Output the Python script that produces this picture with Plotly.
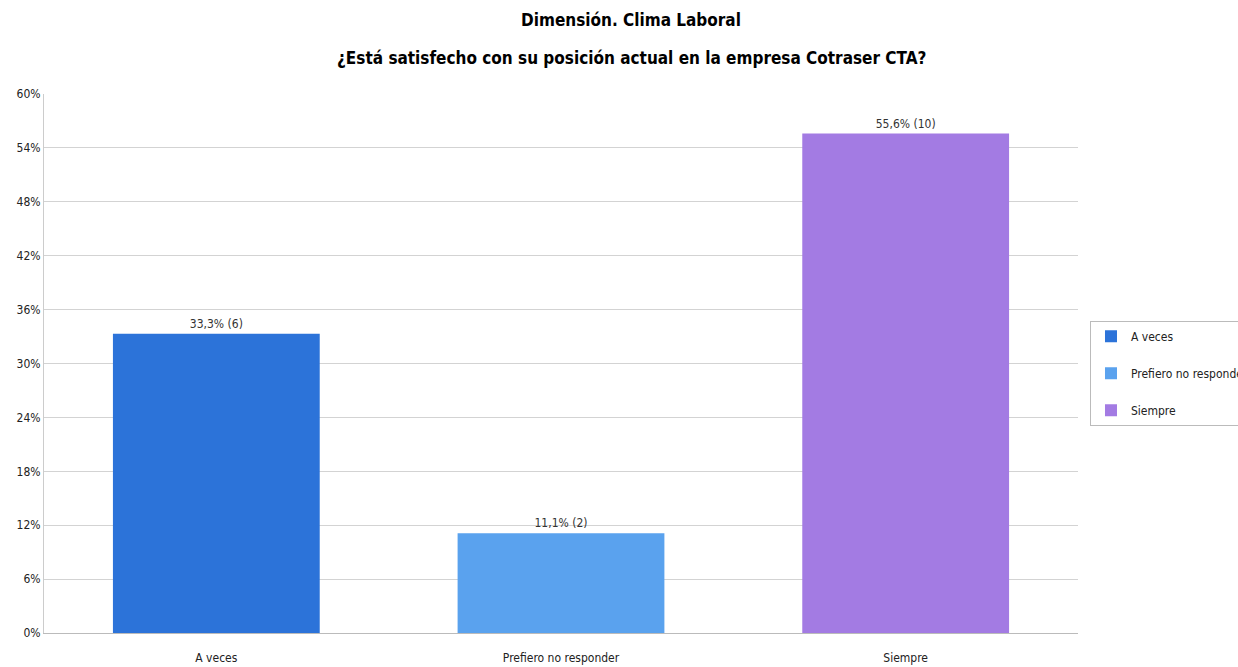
import plotly.graph_objects as go

categories = ["A veces", "Prefiero no responder", "Siempre"]
percentages = [33.3, 11.1, 55.6]
counts = [6, 2, 10]
colors = ["#2C73D9", "#5AA2EE", "#A37BE3"]
y_ticks = [0, 6, 12, 18, 24, 30, 36, 42, 48, 54, 60]

FONT = "DejaVu Sans Condensed, Liberation Sans Narrow, sans-serif"

fig = go.Figure()
for cat, pct, n, col in zip(categories, percentages, counts, colors):
    fig.add_trace(go.Bar(
        x=[cat], y=[pct], name=cat, legendgroup=cat,
        marker=dict(color=col, line=dict(width=0)),
        width=0.6,
        text=[f"{pct:.1f}".replace(".", ",") + f"% ({n})"],
        textposition="outside", cliponaxis=False,
        textfont=dict(size=12, color="#333333", family=FONT),
    ))

title_lines = [
    "Dimensión. Clima Laboral",
    "¿Está satisfecho con su posición actual en la empresa Cotraser CTA?",
]

fig.update_layout(
    width=1238, height=667,
    margin=dict(l=44, r=160, t=94, b=34, autoexpand=False),
    paper_bgcolor="white", plot_bgcolor="white",
    barmode="overlay",
    font=dict(family=FONT, size=12, color="#333333"),
    showlegend=True,
    legend=dict(
        x=1.0116, y=0.482, xanchor="left", yanchor="middle",
        bordercolor="#BBBBBB", borderwidth=1, bgcolor="white",
        font=dict(size=12, color="#222222", family=FONT),
        tracegroupgap=18,
    ),
    annotations=[
        dict(text=f"<b>{title_lines[0]}</b>", xref="paper", yref="paper",
             x=0.568, y=1.0, yshift=74, xanchor="center", yanchor="middle",
             showarrow=False, font=dict(size=17, color="#000000", family=FONT)),
        dict(text=f"<b>{title_lines[1]}</b>", xref="paper", yref="paper",
             x=0.568, y=1.0, yshift=36, xanchor="center", yanchor="middle",
             showarrow=False, font=dict(size=17, color="#000000", family=FONT)),
    ],
)
fig.update_xaxes(
    showline=True, linecolor="#BBBBBB", linewidth=1,
    showgrid=False, ticks="", ticklabelstandoff=14,
    tickfont=dict(size=12, color="#222222"),
)
fig.update_yaxes(
    range=[0, 60], tickvals=y_ticks, ticktext=[f"{v}%" for v in y_ticks],
    showline=True, linecolor="#CCCCCC", linewidth=1,
    showgrid=True, gridcolor="#D3D3D3", gridwidth=1,
    ticks="", zeroline=False, tickfont=dict(size=12, color="#222222"),
)

fig.write_html("out.html")
